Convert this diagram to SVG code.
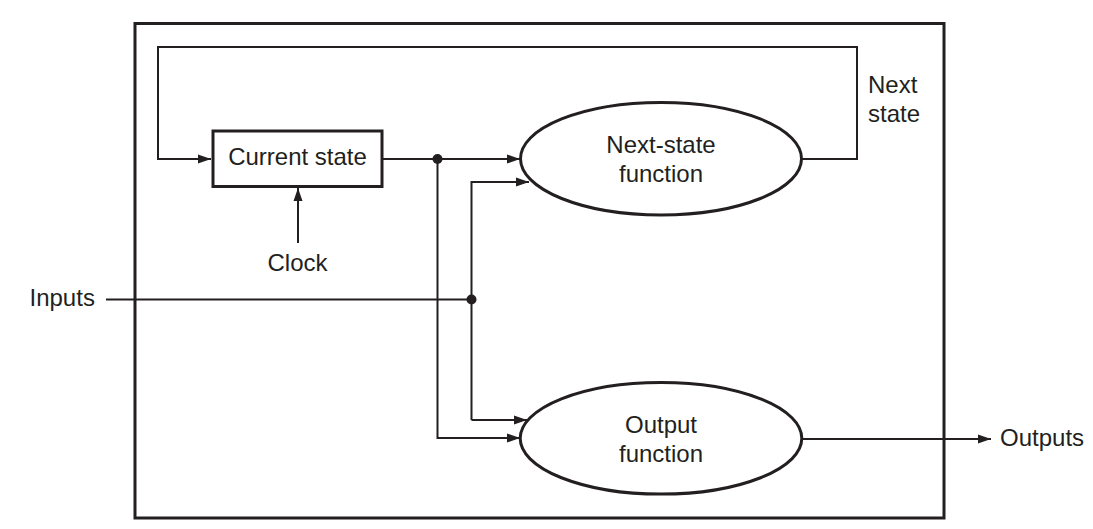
<svg xmlns="http://www.w3.org/2000/svg" width="1093" height="529" viewBox="0 0 1093 529">
<style>
.wire{fill:none;stroke:#231f20;stroke-width:2}
.frame{fill:none;stroke:#231f20;stroke-width:3}
.node{fill:#fff;stroke:#231f20;stroke-width:3}
.lbl{font-family:"Liberation Sans",Arial,sans-serif;font-size:24px;fill:#231f20}
.c{text-anchor:middle}
.dot{fill:#231f20}
</style>
<defs>
<marker id="arr" markerUnits="userSpaceOnUse" markerWidth="14" markerHeight="10" refX="13" refY="5" orient="auto">
<path d="M0,0.5 L13,5 L0,9.5 z" fill="#231f20"/>
</marker>
</defs>
<rect id="frame" class="frame" x="135" y="23.5" width="809" height="494.5"/>
<g id="connectors">
<path class="wire" d="M801.5 159 H857 V47 H158 V159 H211" marker-end="url(#arr)"/>
<path class="wire" d="M383 159 H520" marker-end="url(#arr)"/>
<path class="wire" d="M437.5 159 V438 H520" marker-end="url(#arr)"/>
<path class="wire" d="M106 299.5 H471.5"/>
<path class="wire" d="M471.5 420 V182 H529" marker-end="url(#arr)"/>
<path class="wire" d="M471.5 420 H527" marker-end="url(#arr)"/>
<path class="wire" d="M298 243 V188" marker-end="url(#arr)"/>
<path class="wire" d="M801.5 439 H991" marker-end="url(#arr)"/>
<circle class="dot" cx="437.5" cy="159" r="5"/>
<circle class="dot" cx="471.5" cy="299.5" r="5"/>
</g>
<g id="current-state">
<rect class="node" x="213" y="131" width="169" height="55.5"/>
<text class="lbl c" x="297.5" y="165">Current state</text>
</g>
<g id="next-state-function">
<ellipse class="node" cx="661" cy="158.7" rx="140.5" ry="56.3"/>
<text class="lbl c" x="661" y="153">Next-state</text>
<text class="lbl c" x="661" y="182">function</text>
</g>
<g id="output-function">
<ellipse class="node" cx="661" cy="438.3" rx="140.8" ry="55.8"/>
<text class="lbl c" x="661" y="433">Output</text>
<text class="lbl c" x="661" y="462">function</text>
</g>
<g id="clock"><text class="lbl c" x="297.5" y="271">Clock</text></g>
<g id="inputs"><text class="lbl" x="29.5" y="306">Inputs</text></g>
<g id="outputs"><text class="lbl" x="1000" y="446">Outputs</text></g>
<g id="next-state-label">
<text class="lbl" x="868" y="93">Next</text>
<text class="lbl" x="868" y="122">state</text>
</g>
</svg>
